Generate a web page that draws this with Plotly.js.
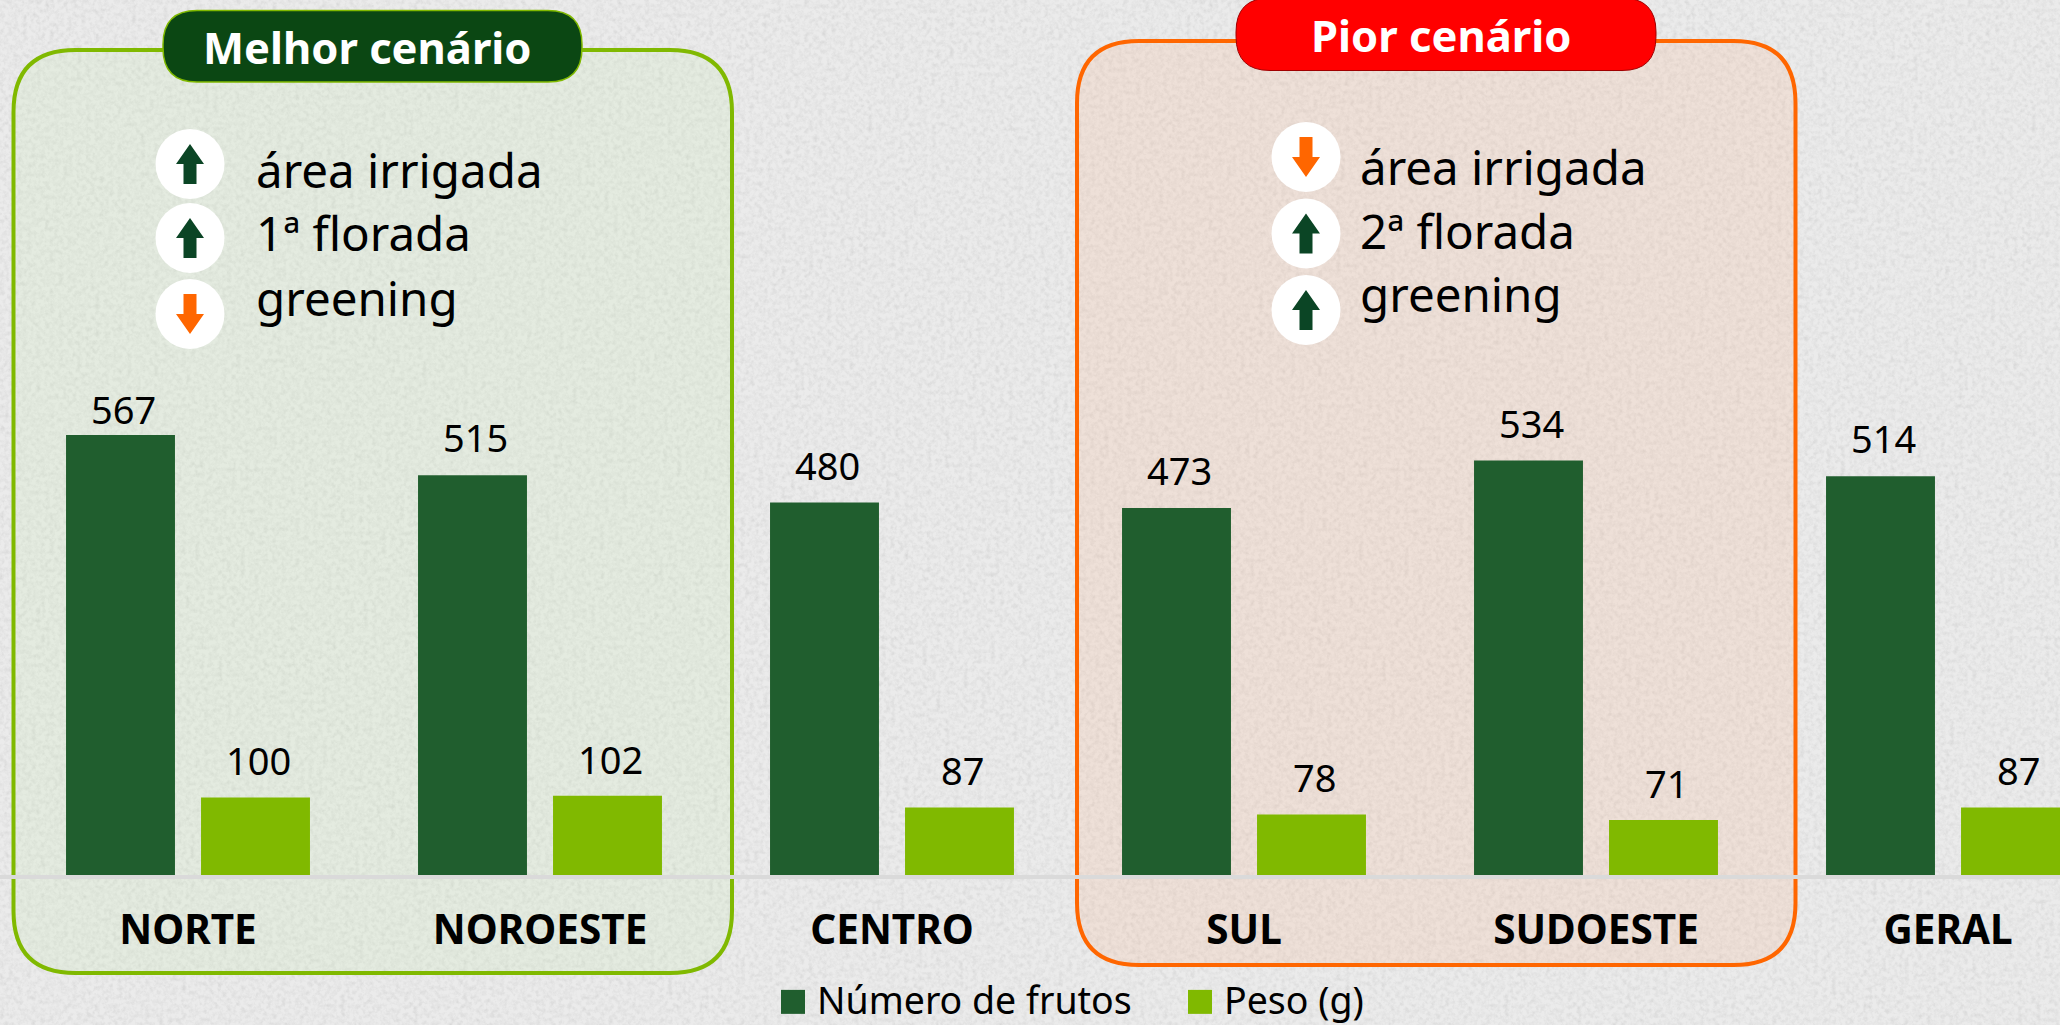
<!DOCTYPE html>
<html><head><meta charset="utf-8">
<script src="https://cdn.plot.ly/plotly-3.0.1.min.js"></script>
<style>
html,body{margin:0;padding:0;width:2060px;height:1025px;overflow:hidden;background-color:#ebebeb;}
#paper{position:absolute;left:0;top:0;width:2060px;height:1025px;}
#chart{position:absolute;left:0;top:0;width:2060px;height:1025px;}
</style></head><body>
<svg id="paper" xmlns="http://www.w3.org/2000/svg"><filter id="n" x="0" y="0" width="100%" height="100%"><feTurbulence type="fractalNoise" baseFrequency="0.22" numOctaves="4" seed="7"/><feColorMatrix type="matrix" values="0 0 0 0 0.55  0 0 0 0 0.55  0 0 0 0 0.55  0.6 0.6 0 0 -0.5"/></filter><rect width="2060" height="1025" filter="url(#n)"/></svg>
<div id="chart"></div>
<script>
const categories=['NORTE','NOROESTE','CENTRO','SUL','SUDOESTE','GERAL'];
const frutos=[567,515,480,473,534,514];
const peso=[100,102,87,78,71,87];
const seriesNames=['Número de frutos','Peso (g)'];
const melhorFactors=['área irrigada','1ª florada','greening'];
const piorFactors=['área irrigada','2ª florada','greening'];
const melhorDir=['up','up','down'];
const piorDir=['down','up','up'];
const DARK='#205E2E',LIGHT='#80B900',ORANGE='#FF6600',ARROW='#0B4525';
const FONT='"Noto Sans", sans-serif';
const W=2060,H=1025,BASE=875;
const px=x=>x/W, py=y=>(BASE-y)/BASE;
const pt=(x,y)=>px(x)+','+py(y);
function rr(x0,y0,x1,y1,r){
 return 'M'+pt(x0+r,y0)+' L'+pt(x1-r,y0)+' Q'+pt(x1,y0)+' '+pt(x1,y0+r)+' L'+pt(x1,y1-r)+' Q'+pt(x1,y1)+' '+pt(x1-r,y1)+' L'+pt(x0+r,y1)+' Q'+pt(x0,y1)+' '+pt(x0,y1-r)+' L'+pt(x0,y0+r)+' Q'+pt(x0,y0)+' '+pt(x0+r,y0)+' Z';
}
function shape(path,fill,line,lw,layer,op){return {type:'path',xref:'paper',yref:'paper',path:path,fillcolor:fill,line:{color:line||'rgba(0,0,0,0)',width:lw||0},layer:layer||'below',opacity:op==null?1:op};}
function arrow(cx,cy,dir){
 const s=dir==='up'?1:-1,c=dir==='up'?ARROW:ORANGE;
 const p=(dx,dy)=>pt(cx+dx,cy+s*dy);
 return shape('M'+p(0,-20)+' L'+p(14,0)+' L'+p(6.5,0)+' L'+p(6.5,20)+' L'+p(-6.5,20)+' L'+p(-6.5,0)+' L'+p(-14,0)+' Z',c,null,0,'above');
}
function circle(cx,cy){return {type:'circle',xref:'paper',yref:'paper',x0:px(cx-34.5),x1:px(cx+34.5),y0:py(cy+35),y1:py(cy-35),fillcolor:'#fff',line:{width:0},layer:'above'};}
const shapes=[
 shape(rr(13.5,50,732,973,62),'rgba(200,235,180,0.2)',LIGHT,4),
 shape(rr(1077,41,1795.5,965,62),'rgba(250,180,140,0.2)',ORANGE,4),
 shape(rr(163,10.5,582,82,34),'#0B4713',LIGHT,1.5,'above'),
 shape(rr(1236,-2,1656,70.5,34),'#FF0000','#A00000',1,'above')
];
const annotations=[];
function ann(text,x,y,size,color,weight,anchor){annotations.push({text:text,xref:'paper',yref:'paper',x:px(x),y:py(y),showarrow:false,xanchor:anchor||'left',yanchor:'middle',font:{family:FONT,size:size,color:color,weight:weight||400}});}
const melhorY=[164,238,314],piorY=[157,233.5,310];
melhorFactors.forEach((t,i)=>{shapes.push(circle(190,melhorY[i]));shapes.push(arrow(190,melhorY[i],melhorDir[i]));ann(t,254,[169,233,297][i],47.5,'#000');});
piorFactors.forEach((t,i)=>{shapes.push(circle(1306,piorY[i]));shapes.push(arrow(1306,piorY[i],piorDir[i]));ann(t,1358,[166,230,294][i],47.5,'#000');});
ann('Melhor cenário',367,47,43.5,'#fff',700,'center');
ann('Pior cenário',1441,35,43.5,'#fff',700,'center');
// value labels, anchored to the data through the axes
function valueLabels(vals,xshift,lift){
 vals.forEach((v,i)=>annotations.push({xref:'x',yref:'y',x:i,y:v,text:String(v),showarrow:false,xanchor:'center',yanchor:'bottom',xshift:xshift,yshift:v===Math.max(...frutos)?-2:lift,font:{family:FONT,size:38,color:'#000'}}));
}
valueLabels(frutos,-67.5+3,10);
valueLabels(peso,67.5+3,9);
const traces=[
 {type:'bar',name:seriesNames[0],x:categories,y:frutos,marker:{color:DARK},hoverinfo:'skip'},
 {type:'bar',name:seriesNames[1],x:categories,y:peso,marker:{color:LIGHT},hoverinfo:'skip'}
];
const layout={
 width:W,height:H,margin:{l:0,r:0,t:0,b:H-BASE,pad:0,autoexpand:false},
 paper_bgcolor:'rgba(0,0,0,0)',plot_bgcolor:'rgba(0,0,0,0)',
 barmode:'group',bargap:0.233,bargroupgap:0.193,
 xaxis:{type:'category',automargin:false,range:[-188/352,(2060-188)/352],showgrid:false,zeroline:false,showline:true,linecolor:'#DADADA',linewidth:4,ticks:'',tickfont:{family:FONT,size:40.5,color:'#000',weight:700},ticklabelstandoff:16},
 yaxis:{range:[0,875/0.776],visible:false,showgrid:false,zeroline:false},
 showlegend:true,
 legend:{orientation:'h',x:px(769),xanchor:'left',y:py(968),yanchor:'top',itemwidth:38,entrywidth:354,entrywidthmode:'pixels',font:{family:FONT,size:37.5,color:'#000'},bgcolor:'rgba(0,0,0,0)',traceorder:'normal'},
 shapes:shapes,annotations:annotations,
 font:{family:FONT}
};
Plotly.newPlot('chart',traces,layout,{displayModeBar:false,staticPlot:true}).then(()=>{
 document.querySelectorAll('.legendpoints path').forEach(p=>p.setAttribute('d','M12,15H-12V-9H12Z'));
});
</script></body></html>
